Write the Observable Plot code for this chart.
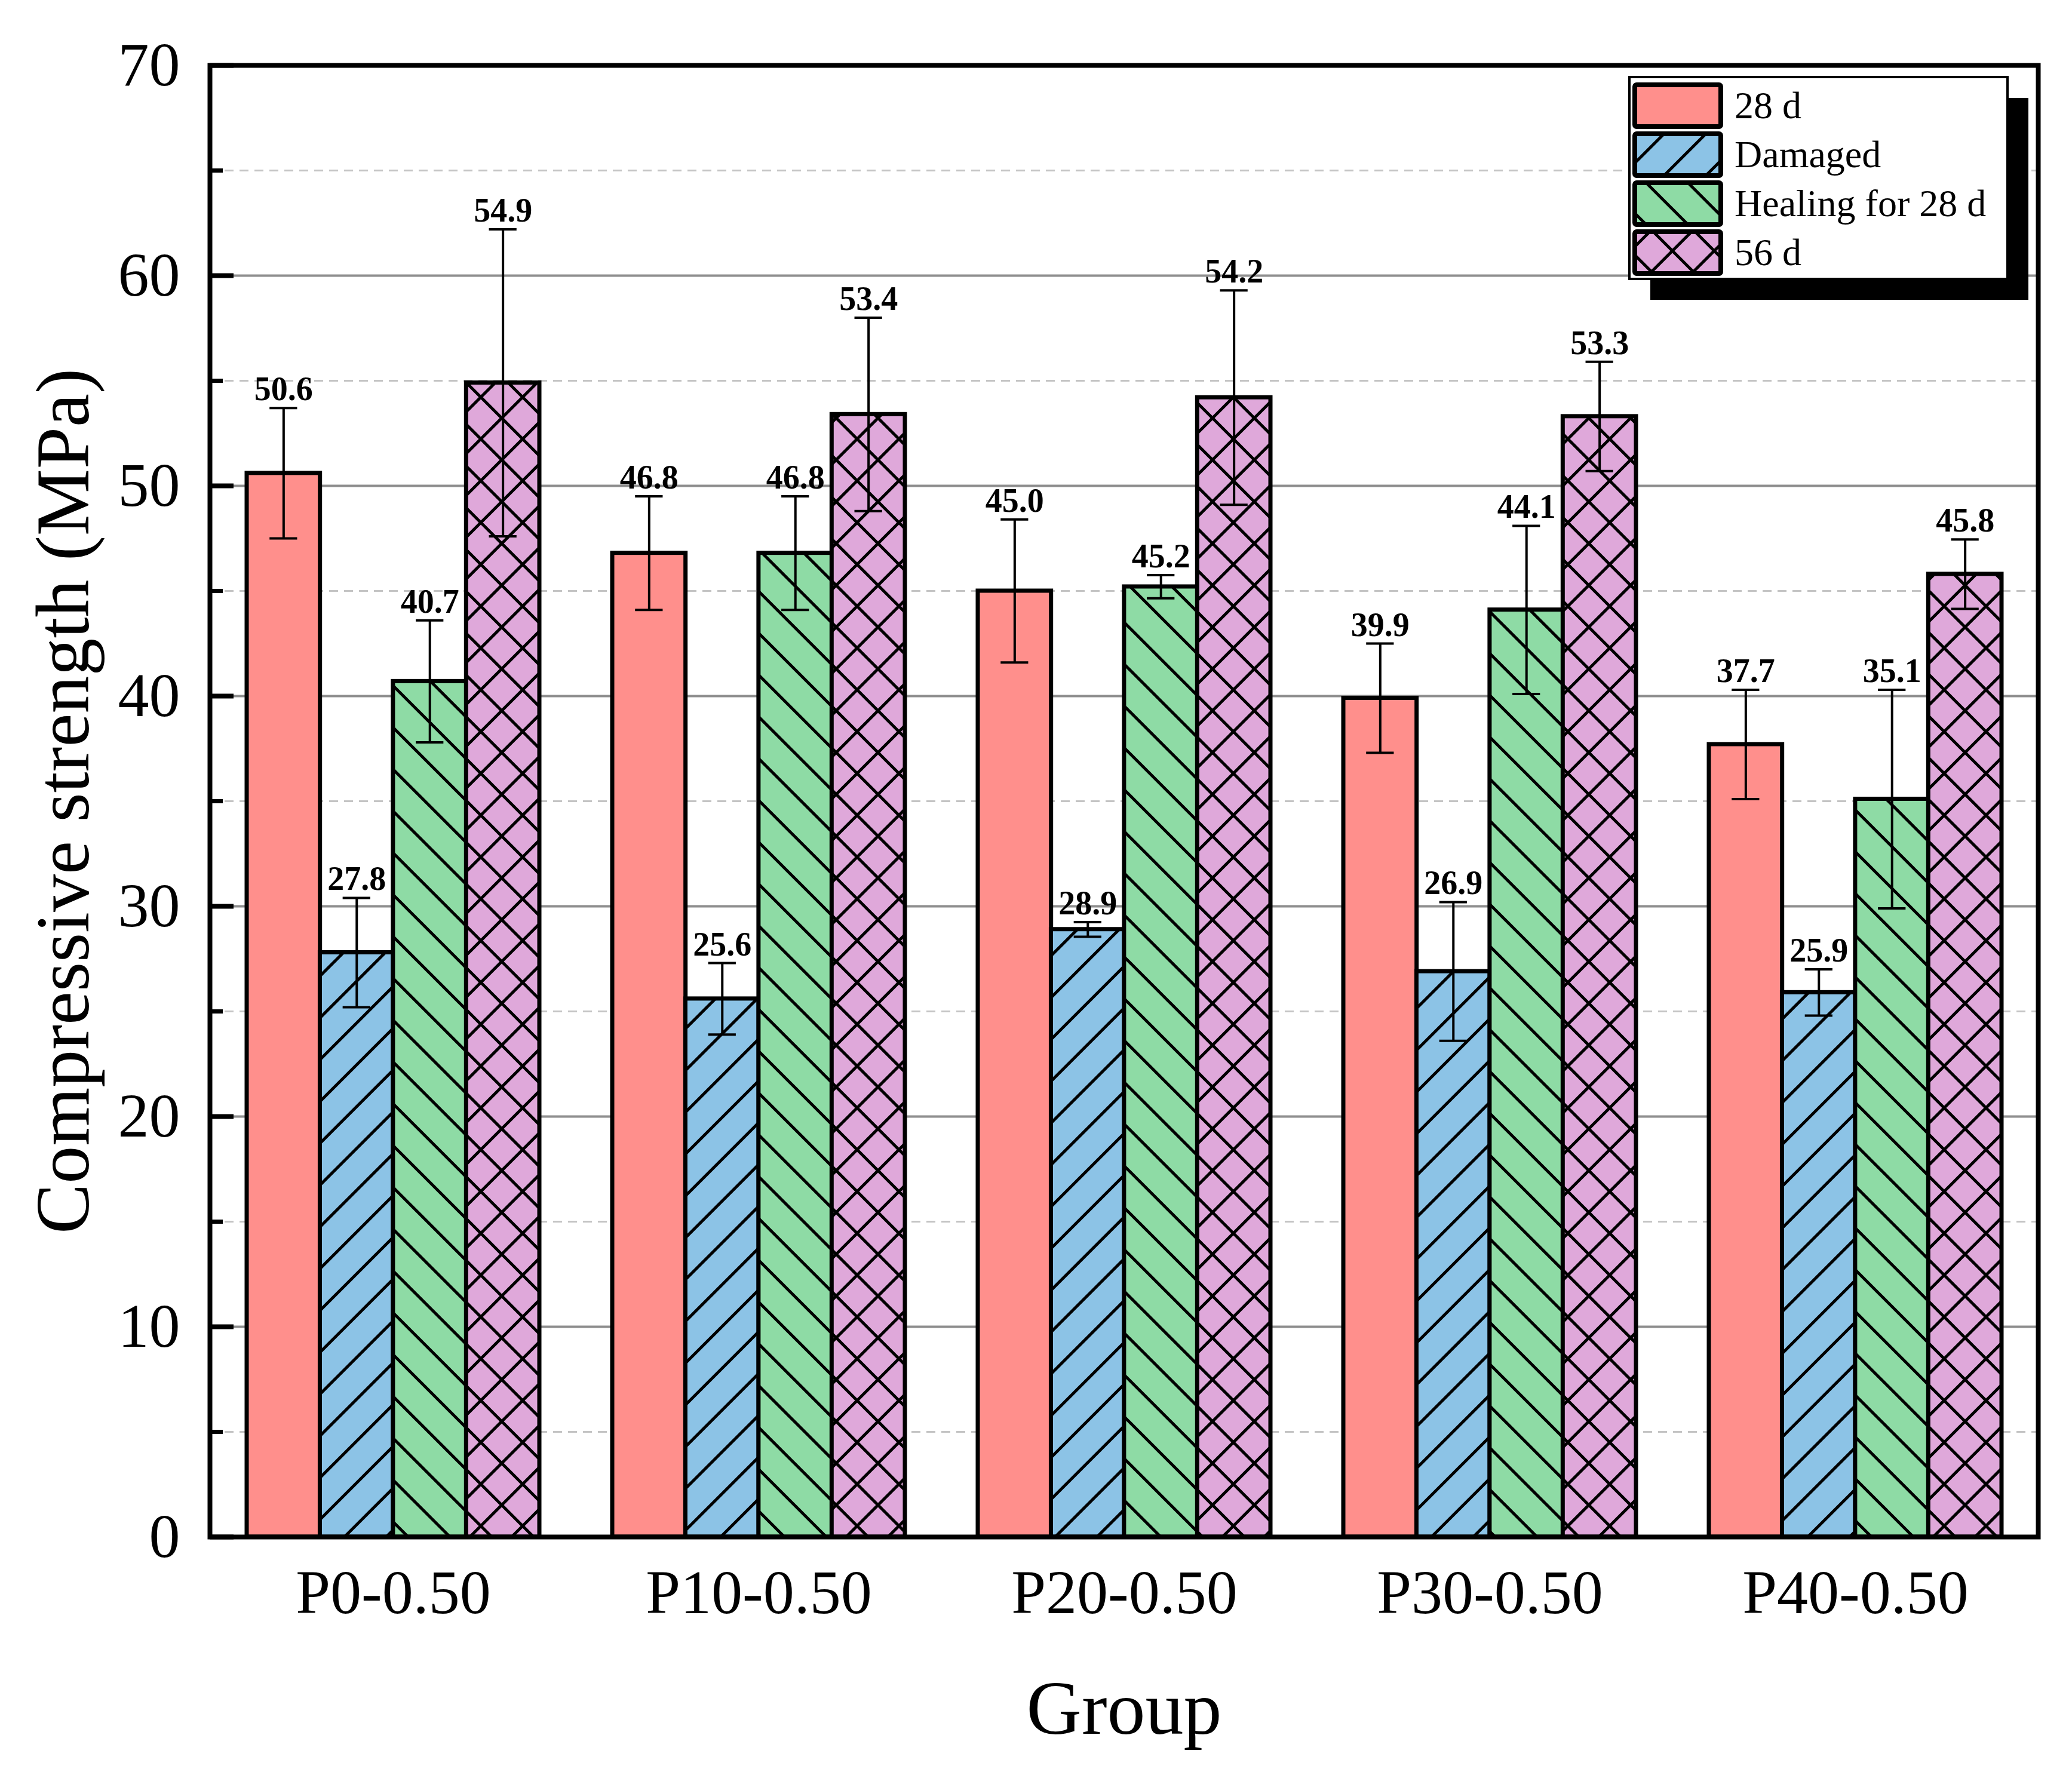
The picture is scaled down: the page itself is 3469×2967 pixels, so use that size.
<!DOCTYPE html>
<html>
<head>
<meta charset="utf-8">
<script src="https://cdn.jsdelivr.net/npm/d3@7"></script>
<script src="https://cdn.jsdelivr.net/npm/@observablehq/plot@0.6"></script>
<style>
  html, body { margin: 0; padding: 0; background: #fff; }
  #chart svg { display: block; }
</style>
</head>
<body>
<svg id="patterns" width="0" height="0" style="position:absolute;left:0;top:0"><defs></defs></svg>
<div id="chart"></div>
<script>
// ---------- data ----------
const groups = ["P0-0.50", "P10-0.50", "P20-0.50", "P30-0.50", "P40-0.50"];
const series = ["28 d", "Damaged", "Healing for 28 d", "56 d"];

const strength28d    = [50.6, 46.8, 45.0, 39.9, 37.7];
const strengthDamage = [27.8, 25.6, 28.9, 26.9, 25.9];
const strengthHeal   = [40.7, 46.8, 45.2, 44.1, 35.1];
const strength56d    = [54.9, 53.4, 54.2, 53.3, 45.8];

const err28d    = [3.1, 2.7, 3.4, 2.6, 2.6];
const errDamage = [2.6, 1.7, 0.35, 3.3, 1.1];
const errHeal   = [2.9, 2.7, 0.55, 4.0, 5.2];
const err56d    = [7.3, 4.6, 5.1, 2.6, 1.65];

const majorTicks = [0, 10, 20, 30, 40, 50, 60, 70];
const minorTicks = [5, 15, 25, 35, 45, 55, 65];

const seriesValues = [strength28d, strengthDamage, strengthHeal, strength56d];
const seriesErrors = [err28d, errDamage, errHeal, err56d];

const colors = ["#ff8f8c", "#8cc3e6", "#8edba5", "#dfa8da"];
const hatch = ["none", "/", "\\", "x"];

// ---------- table ----------
const rows = [];
series.forEach((s, i) => groups.forEach((g, j) => rows.push({
  group: g, series: s, value: seriesValues[i][j], err: seriesErrors[i][j]
})));

// ---------- patterns ----------
const S = 70;
const defs = d3.select("#patterns defs");
const fwd = `M0,${S}L${S},0M${-S/2},${S/2}L${S/2},${-S/2}M${S/2},${S*1.5}L${S*1.5},${S/2}`;
const bwd = `M0,0L${S},${S}M${-S/2},${S/2}L${S/2},${S*1.5}M${S/2},${-S/2}L${S*1.5},${S/2}`;
const fills = series.map((s, i) => {
  if (hatch[i] === "none") return colors[i];
  const id = "pat" + i;
  const p = defs.append("pattern").attr("id", id)
    .attr("patternUnits", "userSpaceOnUse").attr("width", S).attr("height", S);
  p.append("rect").attr("width", S).attr("height", S).attr("fill", colors[i]);
  const d = hatch[i] === "/" ? fwd : hatch[i] === "\\" ? bwd : fwd + bwd;
  p.append("path").attr("d", d).attr("stroke", "black").attr("stroke-width", 5).attr("fill", "none");
  return `url(#${id})`;
});

// ---------- layout ----------
const W = 3469, H = 2967;
const mL = 351, mR = 57, mT = 109, mB = 394;
const fw = W - mL - mR;
const padIn = 0.2, padOut = 0.1;
const step = fw / (groups.length - padIn + 2 * padOut);
const bw = step * (1 - padIn);
const n = series.length;
const sub = bw / n;
const capW = 46;

const marks = [
  Plot.ruleY(minorTicks, {y: d => d, stroke: "#c4c4c4", strokeWidth: 3, strokeDasharray: "15,10"}),
  Plot.ruleY(majorTicks, {y: d => d, stroke: "#8e8e8e", strokeWidth: 4})
];

series.forEach((s, i) => {
  const d = rows.filter(r => r.series === s);
  marks.push(Plot.barY(d, {
    x: "group", y: "value", fill: fills[i], stroke: "black", strokeWidth: 7,
    insetLeft: i * sub, insetRight: (n - 1 - i) * sub
  }));
});

series.forEach((s, i) => {
  const d = rows.filter(r => r.series === s);
  const off = (i - (n - 1) / 2) * sub;
  const cl = i * sub + (sub - capW) / 2;
  const cr = (n - 1 - i) * sub + (sub - capW) / 2;
  marks.push(Plot.ruleX(d, {x: "group", y1: r => r.value - r.err, y2: r => r.value + r.err, dx: off, stroke: "black", strokeWidth: 4}));
  marks.push(Plot.tickY(d, {x: "group", y: r => r.value + r.err, insetLeft: cl, insetRight: cr, stroke: "black", strokeWidth: 4}));
  marks.push(Plot.tickY(d, {x: "group", y: r => r.value - r.err, insetLeft: cl, insetRight: cr, stroke: "black", strokeWidth: 4}));
  marks.push(Plot.text(d, {
    x: "group", y: r => r.value + r.err, dx: off, dy: -13, lineAnchor: "bottom",
    text: r => r.value.toFixed(1), fontWeight: "bold", fontSize: 56, fill: "black"
  }));
});

marks.push(
  Plot.tickY(majorTicks, {y: d => d, insetRight: fw - 40, stroke: "black", strokeWidth: 8}),
  Plot.tickY(minorTicks, {y: d => d, insetRight: fw - 22, stroke: "black", strokeWidth: 7}),
  Plot.frame({stroke: "black", strokeWidth: 8}),
  Plot.axisY({ticks: majorTicks, tickSize: 0, tickPadding: 50, tickFormat: d => String(d), label: null, fontSize: 104}),
  Plot.axisX({tickSize: 0, tickPadding: 54, label: null, fontSize: 104}),
  Plot.text(["Compressive strength (MPa)"], {text: d => d, frameAnchor: "left", textAnchor: "middle", dx: -244, rotate: -90, fontSize: 126, fill: "black"}),
  Plot.text(["Group"], {text: d => d, frameAnchor: "bottom", dy: 329, lineAnchor: "bottom", fontSize: 128, fill: "black"})
);

const svg = Plot.plot({
  width: W, height: H,
  marginLeft: mL, marginRight: mR, marginTop: mT, marginBottom: mB,
  style: {fontFamily: "'Liberation Serif', 'Times New Roman', serif", fontSize: "104px", color: "black", background: "white"},
  x: {domain: groups, paddingInner: padIn, paddingOuter: padOut},
  y: {domain: [0, 70]},
  marks
});

// ---------- legend ----------
const lg = d3.select(svg).append("g").attr("text-anchor", "start");
const lx = 2728, ly = 129, lw = 633, lh = 338, sh = 35;
lg.append("rect").attr("x", lx + sh).attr("y", ly + sh).attr("width", lw).attr("height", lh).attr("fill", "black");
lg.append("rect").attr("x", lx).attr("y", ly).attr("width", lw).attr("height", lh)
  .attr("fill", "white").attr("stroke", "black").attr("stroke-width", 4);
series.forEach((s, i) => {
  const cy = 177 + i * 82;
  lg.append("rect").attr("x", 2737).attr("y", cy - 35).attr("width", 144).attr("height", 70).attr("rx", 3)
    .attr("fill", fills[i]).attr("stroke", "black").attr("stroke-width", 8);
  lg.append("text").attr("x", 2904).attr("y", cy + 21).attr("font-size", 64)
    .attr("text-anchor", "start").attr("fill", "black").text(s);
});

document.getElementById("chart").appendChild(svg);
</script>
</body>
</html>
